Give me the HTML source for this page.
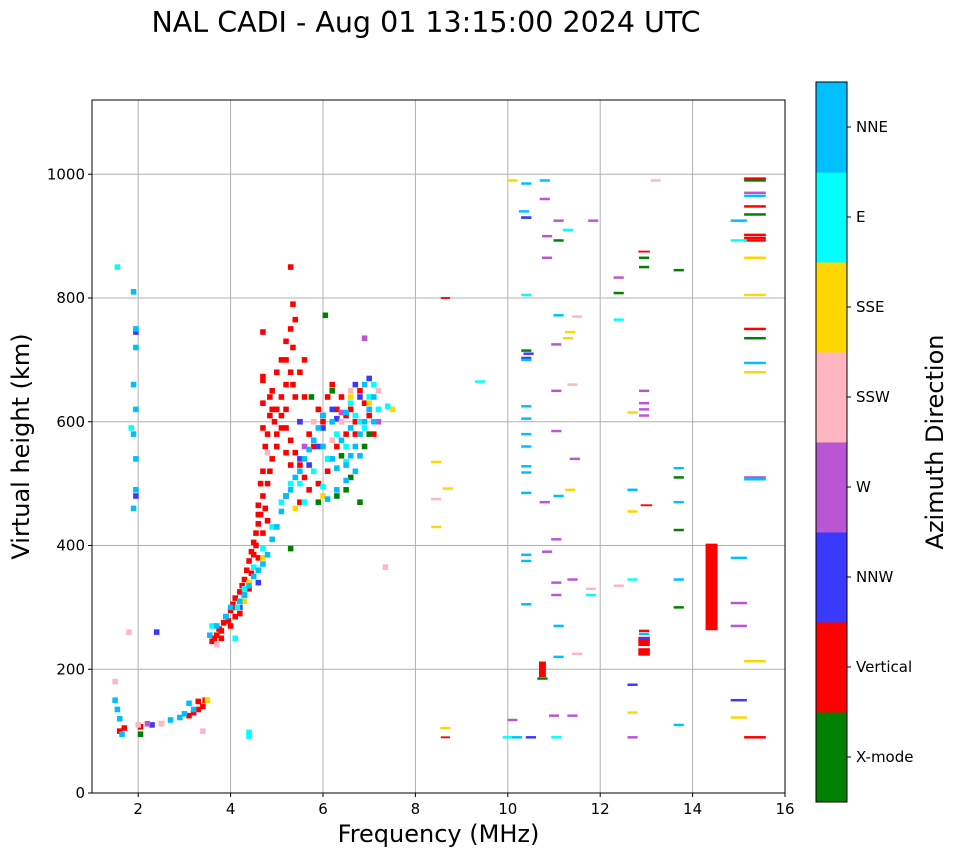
<!DOCTYPE html>
<html><head><meta charset="utf-8"><style>
body{margin:0;background:#fff;}
svg{display:block;font-family:"DejaVu Sans","Liberation Sans",sans-serif;}
</style></head><body>
<svg id="chart" width="958" height="857" viewBox="0 0 958 857">
<text x="426" y="32" text-anchor="middle" font-size="28.5">NAL CADI - Aug 01 13:15:00 2024 UTC</text>
<g id="grid"></g><g id="marks"></g><g id="axes"></g><g id="cbar"></g>
</svg>
<script>
const xTicks=[2,4,6,8,10,12,14,16];
const yTicks=[0,200,400,600,800,1000];
const typeNames=["X-mode","Vertical","NNW","W","SSW","SSE","E","NNE"];
const typeColors=["#008000","#ff0000","#3a3aff","#ba55d3","#ffb6c1","#ffd700","#00ffff","#00bfff"];
// [freq MHz, height km, (bandwidth MHz), (thickness km)]
const xmode=[[13.7,845],[13.7,510],[13.7,425],[13.7,300],[12.95,865],[12.95,850],[10.4,930],[10.4,715],[10.75,185],[11.1,893],[12.4,808],[6.05,772],[6.3,480],[6.5,490],[6.6,510],[6.8,470],[6.9,560],[7.0,580],[6.2,650],[5.9,470],[5.3,395],[2.05,95],[15.35,990],[15.35,935],[15.35,735],[6.4,545],[6.6,620],[5.75,640],[6.0,610]];
const vertical=[[1.6,100],[1.7,105],[2.05,107],[2.5,112],[3.1,125],[3.3,135],[3.4,140],[3.3,148],[3.2,130],[3.45,150],
[3.6,245],[3.7,255],[3.75,265],[3.85,275],[3.9,285],[4.0,295],[4.05,305],[4.1,315],[4.2,325],[4.25,335],[4.3,345],[4.35,360],[4.4,375],[4.45,390],[4.5,405],[4.55,420],[4.6,435],[4.65,450],[4.6,465],[4.7,480],[4.8,500],[4.85,520],[4.9,540],[5.0,560],[5.0,580],[4.95,600],[4.9,620],[5.1,610],[5.2,590],[5.3,570],[5.4,550],[5.5,530],[5.6,510],[5.1,640],[5.2,660],[5.3,680],[5.2,700],[5.35,720],[5.3,750],[5.4,765],[5.35,790],[5.3,850],[4.7,670,0.12,15],[4.7,745],[5.5,600],[5.7,580],[5.8,560],[5.9,620],[6.0,600],[6.1,640],[6.2,660],[6.4,640],[6.6,620],[6.7,600],[6.8,650],[6.9,630],[7.0,610],[7.1,580],[6.5,580],[6.3,560],[6.1,520],[5.9,500],[5.7,490],[5.5,470],[5.2,480],[4.8,440],[4.6,380],[4.4,330],[4.2,290],[4.1,285],[4.0,270],[3.8,250],[4.7,630],[4.9,650],[5.0,680],[5.1,700],[5.5,680],
[3.65,250],[3.8,262],[3.95,278],[4.1,300],[4.3,320],[4.45,355],[4.5,385],[4.55,400],[4.7,420],[4.6,450],[4.75,460],[4.65,500],[4.7,520],[4.75,560],[4.8,580],[4.85,610],[4.7,590],[4.85,640],[5.0,620],[5.1,590],[5.2,550],[5.3,530],[5.2,620],[5.4,640],[5.35,660],[5.6,640],[5.6,700],[5.2,730],[6.5,610],[6.3,620],[6.7,580],
[8.65,800,0.2,3],[8.65,90,0.2,3],[10.75,200,0.15,25],[12.95,875,0.25,3],[12.95,245,0.25,15],[12.95,228,0.25,12],[12.95,262],[13.0,465,0.25,3],[14.41,333,0.26,140],
[15.35,993],[15.35,948],[15.35,902],[15.35,897],[15.35,893],[15.35,750],[15.35,90]];
const nnw=[[10.4,930],[10.45,710],[10.4,703],[10.5,90],[12.7,175],[12.95,250],[15.0,150],[5.5,600],[6.2,620],[6.8,640],[4.6,340],[2.3,110],[1.95,480],[1.95,745],[2.4,260],[5.5,540],[5.9,560],[4.2,300],[6.7,660],[6.3,605],[5.7,530],[6.0,590],[7.0,670]];
const wdir=[[10.8,960],[10.85,900],[10.85,865],[11.05,725],[11.05,650],[11.05,585],[11.05,410],[10.85,390],[11.05,340],[11.05,320],[11.0,125],[11.4,125],[10.8,470],[12.4,833],[12.95,650],[12.95,630],[12.95,620],[12.95,610],[12.7,90],[15.0,307],[15.0,270],[11.85,925],[11.1,925],[10.1,118],[2.2,112],[6.9,735],[11.45,540],[11.4,345],[15.35,970],[15.35,510],[6.4,615],[5.6,560],[7.2,600]];
const ssw=[[13.2,990],[11.5,770],[11.4,660],[12.4,335],[8.45,475],[11.8,330],[11.5,225],[1.5,180],[1.8,260],[2.0,110],[2.5,112],[5.8,600],[6.4,600],[7.2,650],[4.8,550],[7.35,365],[3.7,240],[3.4,100],[6.2,570],[6.6,650]];
const sse=[[12.7,615],[12.7,455],[12.7,130],[11.35,745],[11.3,735],[11.35,490],[8.45,535],[8.45,430],[8.7,492],[8.65,105],[10.1,990],[15.0,122],[5.6,470],[6.0,480],[6.6,640],[7.0,630],[7.5,620],[4.3,310],[4.4,340],[3.5,150],[4.7,380],[5.4,460],[15.35,865],[15.35,805],[15.35,680],[15.35,213]];
const edir=[[4.15,300],[4.3,330],[4.5,365],[4.7,395],[4.9,430],[5.1,470],[5.3,500],[5.5,500],[5.8,520],[6.3,580],[6.5,560],[6.7,610],[6.9,590],[7.0,640],[4.1,250],[3.6,270],[5.6,470],[6.0,495],[6.6,630],[7.2,620],[7.4,625],[1.55,850],[1.85,590],[10.4,805],[11.05,90],[12.4,765],[12.7,345],[15.0,893],[10.0,90],[11.8,320],[9.4,665],[11.3,910],[6.1,540,0.12,10],[6.5,535,0.12,10],[6.8,600],[7.1,660],[4.4,92],[4.4,98]];
const nne=[[1.5,150],[1.55,135],[1.6,120],[1.65,95],[2.7,118],[2.9,122],[3.0,128],[3.2,135],[3.1,145],
[3.55,255],[3.7,270],[3.9,285],[4.0,300],[4.2,310],[4.3,320],[4.4,335],[4.5,350],[4.6,360],[4.7,370],[4.8,385],[4.9,410],[5.0,430],[5.1,455],[5.2,480],[5.3,490],[5.4,510],[5.5,520],[5.6,540],[5.7,555],[5.8,570],[6.0,560],[6.2,540],[6.3,525],[6.5,530],[6.6,545],[6.7,560],[6.8,580],[6.9,600],[7.0,620],[7.1,640],[6.4,570],[6.6,590],[6.2,600],[6.0,610],[5.9,590],[6.5,615],[6.8,545],[6.7,520],[6.5,505],[6.3,490],[6.1,475],[6.9,660],[7.1,600],
[1.9,810],[1.95,750],[1.95,720],[1.9,660],[1.95,620],[1.9,580],[1.95,540],[1.95,490],[1.9,460],
[10.4,985],[10.35,940],[10.4,700],[10.4,625],[10.4,605],[10.4,580],[10.4,560],[10.4,528],[10.4,518],[10.4,485],[10.4,385],[10.4,375],[10.4,305],[10.2,90],[11.1,772],[11.1,480],[11.1,270],[11.1,220],[12.7,490],[12.95,257],[13.7,525],[13.7,470],[13.7,345],[13.7,110],[10.8,990],[15.0,925],[15.0,380],[15.35,965],[15.35,695],[15.35,507]];
const series=[xmode,vertical,nnw,wdir,ssw,sse,edir,nne];

const NS="http://www.w3.org/2000/svg";
const X0=92,X1=785,Y0=793,Y1=100,FMIN=1,FMAX=16,HMIN=0,HMAX=1120;
function xs(f){return X0+(f-FMIN)/(FMAX-FMIN)*(X1-X0);}
function ys(h){return Y0-(h-HMIN)/(HMAX-HMIN)*(Y0-Y1);}
function mk(tag,attrs,parent){const e=document.createElementNS(NS,tag);for(const k in attrs)e.setAttribute(k,attrs[k]);parent.appendChild(e);return e;}
const grid=document.getElementById('grid'),axes=document.getElementById('axes'),marks=document.getElementById('marks'),cbar=document.getElementById('cbar');
xTicks.forEach(t=>{const x=xs(t);
 const l=mk('line',{x1:x,x2:x,y1:Y1,y2:Y0,stroke:'#b0b0b0','stroke-width':1},grid);
 
 
 mk('line',{x1:x,x2:x,y1:Y0,y2:Y0+4,stroke:'#000'},axes);
 const tx=mk('text',{x:x,y:Y0+21,'text-anchor':'middle','font-size':15},axes);tx.textContent=t;
 
 
});
yTicks.forEach(t=>{const y=ys(t);
 const l=mk('line',{x1:X0,x2:X1,y1:y,y2:y,stroke:'#b0b0b0','stroke-width':1},grid);
 
 
 mk('line',{x1:X0-4,x2:X0,y1:y,y2:y,stroke:'#000'},axes);
 const tx=mk('text',{x:X0-7,y:y+5,'text-anchor':'end','font-size':15},axes);tx.textContent=t;
 
 
});
const fr=mk('rect',{x:X0,y:Y1,width:X1-X0,height:Y0-Y1,fill:'none',stroke:'#000','stroke-width':1},axes);


const xl=mk('text',{x:(X0+X1)/2,y:842,'text-anchor':'middle','font-size':24},axes);xl.textContent='Frequency (MHz)';


const yl=mk('text',{x:0,y:0,'text-anchor':'middle','font-size':24,transform:`translate(29,${(Y0+Y1)/2}) rotate(-90)`},axes);yl.textContent='Virtual height (km)';



function defBw(f){return f>=15.3?0.47:(f>=14.9?0.35:(f>8?0.22:0.12));}
series.forEach((pts,ti)=>{pts.forEach(p=>{
 const f=p[0],h=p[1],bw=p[2]!==undefined?p[2]:defBw(f),dh=p[3]!==undefined?p[3]:(f>8?4:9);
 const x=xs(f-bw/2),w=xs(f+bw/2)-x,y=ys(h+dh/2),hh=ys(h-dh/2)-y;
 const r=mk('rect',{x:x,y:y,width:w,height:hh,fill:typeColors[ti]},marks);
 
 
});});

const CX=816,CW=31,CT=82,CB=802,bh=(CB-CT)/typeNames.length;
typeNames.forEach((n,i)=>{const y=CB-(i+1)*bh;
 const r=mk('rect',{x:CX,y:y,width:CW,height:bh+0.5,fill:typeColors[i]},cbar);
 
 
 mk('line',{x1:CX+CW,x2:CX+CW+4,y1:y+bh/2,y2:y+bh/2,stroke:'#000'},cbar);
 const t=mk('text',{x:CX+CW+9,y:y+bh/2+5,'font-size':15},cbar);t.textContent=n;
 
 
});
const cf=mk('rect',{x:CX,y:CT,width:CW,height:CB-CT,fill:'none',stroke:'#000'},cbar);


const ct=mk('text',{x:0,y:0,'text-anchor':'middle','font-size':24,transform:`translate(943,${(CT+CB)/2}) rotate(-90)`},cbar);ct.textContent='Azimuth Direction';


</script>
</body></html>
